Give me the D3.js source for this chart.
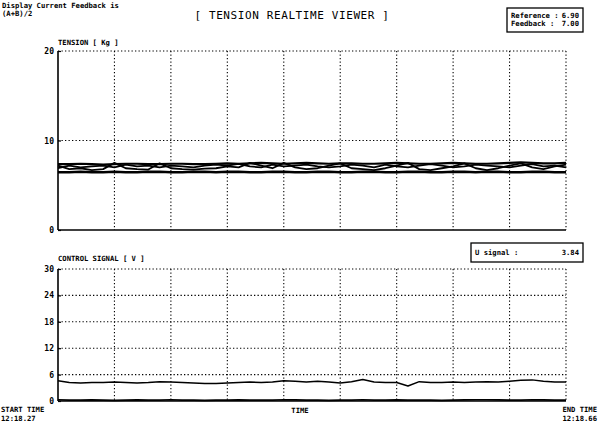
<!DOCTYPE html>
<html>
<head>
<meta charset="UTF-8" />
<title>Tension Realtime Viewer</title>
<script src="https://cdn.jsdelivr.net/npm/d3@7"></script>
<style>
    body { margin: 0; background: #fff; }
    svg text { font-family: "DejaVu Sans Mono", monospace; fill: #000; }
    .grid line { stroke: #000; stroke-width: 1.1; stroke-dasharray: 1.3, 2.2; }
    .small { font-size: 7px; font-weight: bold; }
    .tiny { font-size: 7.2px; font-weight: bold; }
</style>
</head>
<body>
<div id="chart"></div>
<script>
    // tension samples [Kg], 46 samples over the record
    const tensionUpper = [7.35, 7.35, 7.4, 7.35, 7.3, 7.35, 7.4, 7.4, 7.35, 7.35, 7.4, 7.4, 7.35, 7.35, 7.4, 7.45, 7.4, 7.45, 7.5, 7.45, 7.4, 7.45, 7.5, 7.45, 7.4, 7.45, 7.45, 7.4, 7.4, 7.45, 7.5, 7.45, 7.4, 7.4, 7.45, 7.5, 7.45, 7.4, 7.4, 7.45, 7.5, 7.55, 7.5, 7.45, 7.45, 7.5];
    const tensionLower = [6.45, 6.45, 6.5, 6.45, 6.45, 6.5, 6.45, 6.45, 6.5, 6.5, 6.45, 6.45, 6.5, 6.5, 6.45, 6.5, 6.5, 6.45, 6.45, 6.5, 6.5, 6.45, 6.45, 6.5, 6.5, 6.45, 6.45, 6.5, 6.5, 6.45, 6.45, 6.5, 6.5, 6.45, 6.45, 6.5, 6.5, 6.45, 6.5, 6.5, 6.45, 6.45, 6.5, 6.5, 6.45, 6.45];
    const feedbackA = [7.2, 6.8, 6.9, 6.7, 6.8, 7.5, 6.9, 6.8, 6.75, 7.45, 6.9, 6.8, 6.75, 6.85, 6.9, 7.1, 7.0, 7.5, 7.2, 6.9, 7.5, 7.0, 6.8, 6.9, 7.2, 7.45, 6.9, 6.8, 6.7, 6.9, 7.2, 7.5, 6.8, 6.7, 6.9, 7.1, 7.45, 6.9, 6.7, 6.9, 7.2, 7.45, 7.0, 6.8, 7.1, 7.3];
    const feedbackB = [6.9, 7.2, 7.0, 7.1, 7.2, 7.0, 7.3, 7.1, 7.2, 7.0, 7.2, 7.1, 7.0, 7.2, 7.3, 7.2, 7.4, 7.1, 7.0, 7.3, 7.1, 7.2, 7.3, 7.1, 7.0, 7.1, 7.3, 7.2, 7.0, 7.3, 7.1, 7.0, 7.2, 7.35, 7.2, 7.0, 7.1, 7.3, 7.2, 7.1, 7.0, 7.2, 7.35, 7.1, 7.2, 7.0];

    // control signal [V]
    const controlSignal = [4.6, 4.2, 4.1, 4.2, 4.2, 4.3, 4.2, 4.1, 4.2, 4.4, 4.3, 4.2, 4.1, 4.0, 4.0, 4.1, 4.2, 4.3, 4.2, 4.3, 4.6, 4.5, 4.3, 4.5, 4.3, 4.1, 4.4, 4.9, 4.3, 4.2, 4.2, 3.4, 4.4, 4.2, 4.2, 4.3, 4.2, 4.3, 4.4, 4.3, 4.5, 4.7, 4.8, 4.5, 4.3, 4.3];
    const controlBase = [0.3, 0.2, 0.2, 0.25, 0.2, 0.15, 0.2, 0.25, 0.2, 0.2, 0.3, 0.2, 0.2, 0.15, 0.2, 0.2, 0.25, 0.2, 0.2, 0.2, 0.3, 0.25, 0.2, 0.2, 0.15, 0.2, 0.2, 0.3, 0.2, 0.2, 0.25, 0.2, 0.2, 0.2, 0.15, 0.2, 0.25, 0.3, 0.3, 0.25, 0.2, 0.2, 0.3, 0.25, 0.2, 0.2];

    const tensionTicks = [0, 10, 20];
    const signalTicks = [0, 6, 12, 18, 24, 30];
    const timeGrid = [0, 1, 2, 3, 4, 5, 6, 7, 8, 9];

    const readout = { reference: "6.90", feedback: "7.00", uSignal: "3.84" };
    const startTime = "12:18.27";
    const endTime = "12:18.66";

    const w = 600, h = 428;
    const left = 58, right = 566;

    const svg = d3.select('#chart').append('svg')
        .attr('width', w)
        .attr('height', h);

    const xIdx = d3.scaleLinear().domain([0, tensionUpper.length - 1]).range([left, right]);
    const xGrid = d3.scaleLinear().domain([0, 9]).range([left, right]);

    function panel(yScale, ticks, series) {
        const g = svg.append('g');
        // horizontal dotted grid (incl. top border)
        g.append('g').attr('class', 'grid')
            .selectAll('line')
            .data(ticks.filter(t => t > 0))
            .enter().append('line')
            .attr('x1', left).attr('x2', right)
            .attr('y1', d => yScale(d)).attr('y2', d => yScale(d));
        // vertical dotted grid
        g.append('g').attr('class', 'grid')
            .selectAll('line')
            .data(timeGrid.slice(1))
            .enter().append('line')
            .attr('x1', d => xGrid(d)).attr('x2', d => xGrid(d))
            .attr('y1', yScale(ticks[ticks.length - 1])).attr('y2', yScale(0));

        const yAxis = d3.axisLeft(yScale).tickValues(ticks).tickSize(3).tickFormat(d3.format('d'));
        g.append('g')
            .attr('transform', 'translate(' + left + ',0)')
            .call(yAxis)
            .call(a => a.select('.domain').attr('stroke-width', 1.6).attr('d', 'M0,' + yScale(ticks[ticks.length - 1]) + 'V' + yScale(0)))
            .call(a => a.selectAll('text').attr('class', 'small').style('font-size', '8px').attr('x', -4))
            .call(a => a.selectAll('.tick line').attr('x2', 3).attr('stroke-width', 1.2));

        // baseline
        g.append('line')
            .attr('x1', left).attr('x2', right)
            .attr('y1', yScale(0)).attr('y2', yScale(0))
            .attr('stroke', '#000').attr('stroke-width', 1.4);

        const line = d3.line().x((d, i) => xIdx(i)).y(d => yScale(d));
        series.forEach(s => {
            g.append('path')
                .datum(s.values)
                .attr('d', line)
                .attr('fill', 'none')
                .attr('stroke', '#000')
                .attr('stroke-width', s.width)
                .attr('stroke-linejoin', 'round');
        });
    }

    const yTension = d3.scaleLinear().domain([0, 20]).range([230, 51]);
    const ySignal = d3.scaleLinear().domain([0, 30]).range([401, 269]);

    panel(yTension, tensionTicks, [
        { values: tensionUpper, width: 2.2 },
        { values: tensionLower, width: 2.6 },
        { values: feedbackA, width: 1.8 },
        { values: feedbackB, width: 1.8 }
    ]);
    panel(ySignal, signalTicks, [
        { values: controlSignal, width: 1.5 },
        { values: controlBase, width: 1.6 }
    ]);

    // header texts
    svg.append('text').attr('class', 'tiny').attr('x', 2).attr('y', 8).text('Display Current Feedback is');
    svg.append('text').attr('class', 'tiny').attr('x', 2).attr('y', 16).text('(A+B)/2');
    svg.append('text')
        .attr('x', 292).attr('y', 19)
        .attr('text-anchor', 'middle')
        .style('font-size', '11px')
        .style('letter-spacing', '0.6px')
        .text('[ TENSION REALTIME VIEWER ]');

    svg.append('text').attr('class', 'tiny').attr('x', 58).attr('y', 45).text('TENSION [ Kg ]');
    svg.append('text').attr('class', 'tiny').attr('x', 58).attr('y', 261).text('CONTROL SIGNAL [ V ]');

    // readout boxes
    function box(x, y, bw, bh, rows) {
        svg.append('rect')
            .attr('x', x).attr('y', y).attr('width', bw).attr('height', bh)
            .attr('fill', 'none').attr('stroke', '#000').attr('stroke-width', 1.3);
        rows.forEach((r, i) => {
            const ty = rows.length === 1 ? y + bh / 2 + 2.5 : y + 9.5 + i * 8;
            svg.append('text').attr('class', 'tiny').attr('x', x + 4).attr('y', ty).text(r[0]);
            svg.append('text').attr('class', 'tiny').attr('x', x + bw - 4).attr('y', ty)
                .attr('text-anchor', 'end').text(r[1]);
        });
    }
    box(507, 8, 76, 24, [['Reference :', readout.reference], ['Feedback  :', readout.feedback]]);
    box(471, 243, 112, 19, [['U signal :', readout.uSignal]]);

    // time labels
    svg.append('text').attr('class', 'tiny').attr('x', 1).attr('y', 412).text('START TIME');
    svg.append('text').attr('class', 'tiny').attr('x', 1).attr('y', 420.5).text(startTime);
    svg.append('text').attr('class', 'tiny').attr('x', 300).attr('y', 413).attr('text-anchor', 'middle').text('TIME');
    svg.append('text').attr('class', 'tiny').attr('x', 597).attr('y', 412).attr('text-anchor', 'end').text('END TIME');
    svg.append('text').attr('class', 'tiny').attr('x', 597).attr('y', 420.5).attr('text-anchor', 'end').text(endTime);
</script>
</body>
</html>
